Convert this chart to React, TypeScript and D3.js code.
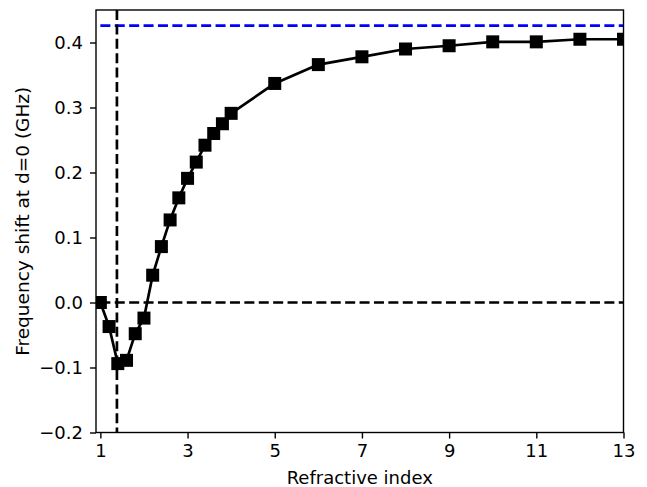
import { useRef, useEffect } from 'react'
import * as d3 from 'd3'

// Frequency shift at d=0 vs refractive index
const refractiveIndex = [1, 1.2, 1.4, 1.6, 1.8, 2.0, 2.2, 2.4, 2.6, 2.8, 3.0, 3.2, 3.4, 3.6, 3.8, 4, 5, 6, 7, 8, 9, 10, 11, 12, 13]
const freqShift = [
  0.0, -0.037, -0.094, -0.089, -0.048, -0.024, 0.042, 0.086, 0.127, 0.161, 0.191, 0.216, 0.242, 0.26, 0.275, 0.291,
  0.337, 0.366, 0.378, 0.39, 0.395, 0.401, 0.401, 0.405, 0.405,
]
const xTicks = [1, 3, 5, 7, 9, 11, 13]
const yTicks = [-0.2, -0.1, 0.0, 0.1, 0.2, 0.3, 0.4]
const asymptote = 0.426
const criticalIndex = 1.38

const W = 647
const H = 487
const FONT = "'DejaVu Sans', sans-serif"

function FreqShiftChart() {
  const svgRef = useRef<SVGSVGElement>(null)

  useEffect(() => {
    const svg = svgRef.current
    if (!svg) return

    const margin = { top: 10, right: 23.5, bottom: 54.5, left: 96 }
    const iW = W - margin.left - margin.right
    const iH = H - margin.top - margin.bottom

    const sel = d3.select(svg)
    sel.selectAll('*').remove()

    const x = d3.scaleLinear().domain([0.9, 13]).range([0, iW])
    const y = d3.scaleLinear().domain([-0.2, 0.45]).range([iH, 0])

    const g = sel.append('g').attr('transform', `translate(${margin.left},${margin.top})`)

    sel.append('defs')
      .append('clipPath')
      .attr('id', 'plot-clip')
      .append('rect')
      .attr('width', iW)
      .attr('height', iH)

    const plot = g.append('g').attr('clip-path', 'url(#plot-clip)')

    // reference lines
    plot.append('line')
      .attr('x1', x(1)).attr('x2', x(13))
      .attr('y1', y(asymptote)).attr('y2', y(asymptote))
      .attr('stroke', '#0000ff').attr('stroke-width', 2.7)
      .attr('stroke-dasharray', '10,4.4')

    plot.append('line')
      .attr('x1', x(1)).attr('x2', x(13))
      .attr('y1', y(0)).attr('y2', y(0))
      .attr('stroke', '#000').attr('stroke-width', 2.7)
      .attr('stroke-dasharray', '10,4.4')

    plot.append('line')
      .attr('x1', x(criticalIndex)).attr('x2', x(criticalIndex))
      .attr('y1', 0).attr('y2', iH)
      .attr('stroke', '#000').attr('stroke-width', 2.7)
      .attr('stroke-dasharray', '10,4.4')

    // data line + square markers
    const pts = refractiveIndex.map((n, i) => [n, freqShift[i]] as [number, number])
    const line = d3.line<[number, number]>().x((d) => x(d[0])).y((d) => y(d[1]))

    plot.append('path')
      .attr('d', line(pts))
      .attr('fill', 'none')
      .attr('stroke', '#000')
      .attr('stroke-width', 2.7)
      .attr('stroke-linejoin', 'round')

    const ms = 13
    plot.selectAll('rect.marker')
      .data(pts)
      .enter()
      .append('rect')
      .attr('class', 'marker')
      .attr('x', (d) => x(d[0]) - ms / 2)
      .attr('y', (d) => y(d[1]) - ms / 2)
      .attr('width', ms)
      .attr('height', ms)
      .attr('fill', '#000')

    // axes
    const fmtY = d3.format('.1f')
    const xAxis = g.append('g')
      .attr('transform', `translate(0,${iH})`)
      .call(d3.axisBottom(x).tickValues(xTicks).tickFormat(d3.format('d')).tickSizeInner(6).tickSizeOuter(0).tickPadding(6))
    const yAxis = g.append('g')
      .call(d3.axisLeft(y).tickValues(yTicks).tickFormat((d) => fmtY(d as number)).tickSizeInner(6).tickSizeOuter(0).tickPadding(7))

    for (const ax of [xAxis, yAxis]) {
      ax.select('.domain').remove()
      ax.selectAll('line').attr('stroke', '#000').attr('stroke-width', 1.4)
      ax.selectAll('text').attr('fill', '#000').attr('font-size', '18px').attr('font-family', FONT)
    }

    // frame
    g.append('rect')
      .attr('width', iW)
      .attr('height', iH)
      .attr('fill', 'none')
      .attr('stroke', '#000')
      .attr('stroke-width', 1.4)

    // labels
    g.append('text')
      .attr('x', iW / 2)
      .attr('y', H - margin.top - 3)
      .attr('text-anchor', 'middle')
      .attr('font-size', '18px')
      .attr('font-family', FONT)
      .attr('fill', '#000')
      .text('Refractive index')

    g.append('text')
      .attr('transform', `translate(${29 - margin.left},${iH / 2}) rotate(-90)`)
      .attr('text-anchor', 'middle')
      .attr('font-size', '18.5px')
      .attr('font-family', FONT)
      .attr('fill', '#000')
      .text('Frequency shift at d=0 (GHz)')
  }, [])

  return <svg ref={svgRef} width={W} height={H} style={{ display: 'block', background: '#fff' }} />
}

export default function App() {
  return (
    <div style={{ position: 'fixed', left: 0, top: 0, width: W, height: H, background: '#fff' }}>
      <FreqShiftChart />
    </div>
  )
}
